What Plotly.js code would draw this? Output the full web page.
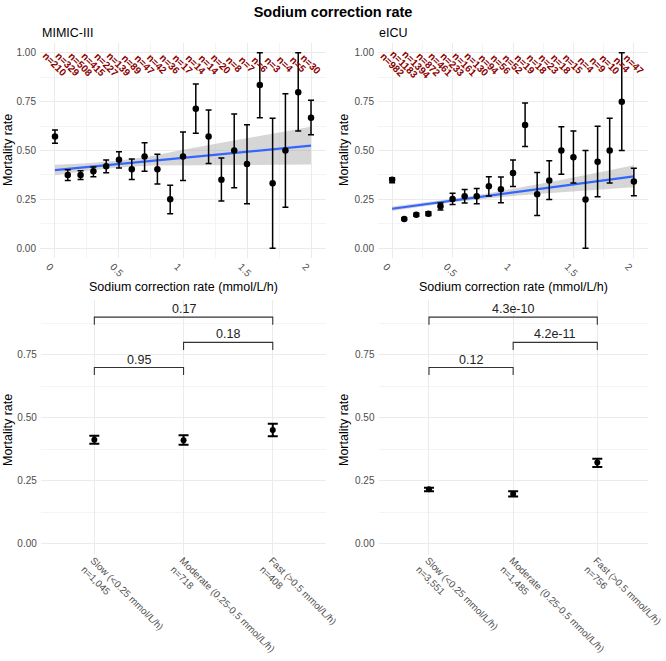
<!DOCTYPE html>
<html>
<head>
<meta charset="utf-8">
<script src="https://cdn.plot.ly/plotly-3.0.1.min.js"></script>
<style>
html, body { margin: 0; padding: 0; background: #fff; }
#chart { width: 666px; height: 661px; }
</style>
</head>
<body>
<div id="chart"></div>
<script>
// correction rate bins (mmol/L/h)
var rateBins = [0, 0.1, 0.2, 0.3, 0.4, 0.5, 0.6, 0.7, 0.8, 0.9, 1.0, 1.1, 1.2, 1.3, 1.4, 1.5, 1.6, 1.7, 1.8, 1.9, 2.0];

// MIMIC-III
var mimicRate = [0.571, 0.375, 0.375, 0.394, 0.419, 0.453, 0.404, 0.469, 0.404, 0.250, 0.469, 0.713, 0.571, 0.350, 0.500, 0.431, 0.835, 0.333, 0.500, 0.798, 0.667];
var mimicLo   = [0.537, 0.347, 0.352, 0.366, 0.386, 0.411, 0.352, 0.394, 0.329, 0.176, 0.347, 0.588, 0.434, 0.241, 0.309, 0.227, 0.667, 0.000, 0.210, 0.600, 0.580];
var mimicHi   = [0.605, 0.401, 0.396, 0.416, 0.452, 0.494, 0.457, 0.540, 0.481, 0.322, 0.595, 0.840, 0.707, 0.461, 0.687, 0.632, 1.000, 0.665, 0.790, 1.000, 0.757];
var mimicN    = [210, 329, 508, 415, 227, 139, 89, 47, 42, 36, 17, 14, 14, 20, 8, 7, 6, 3, 4, 5, 30];

// eICU
var eicuRate = [0.350, 0.150, 0.171, 0.176, 0.215, 0.252, 0.266, 0.266, 0.317, 0.302, 0.385, 0.631, 0.276, 0.346, 0.500, 0.465, 0.249, 0.443, 0.500, 0.750, 0.341];
var eicuLo   = [0.335, 0.145, 0.163, 0.167, 0.196, 0.224, 0.232, 0.228, 0.267, 0.233, 0.316, 0.520, 0.168, 0.249, 0.378, 0.334, 0.000, 0.264, 0.334, 0.500, 0.269];
var eicuHi   = [0.360, 0.156, 0.179, 0.186, 0.232, 0.281, 0.300, 0.305, 0.366, 0.364, 0.452, 0.743, 0.387, 0.448, 0.622, 0.600, 0.500, 0.624, 0.665, 1.000, 0.409];
var eicuN    = [982, 1183, 1394, 872, 461, 233, 161, 130, 94, 56, 52, 19, 18, 23, 18, 15, 4, 9, 10, 4, 47];

// linear fits with 95% band
var fitX       = [0, 0.25, 0.5, 0.75, 1, 1.25, 1.5, 1.75, 2];
var mimicFit   = [0.400, 0.416, 0.431, 0.447, 0.463, 0.478, 0.494, 0.509, 0.525];
var mimicFitLo = [0.373, 0.397, 0.413, 0.423, 0.422, 0.423, 0.426, 0.427, 0.428];
var mimicFitHi = [0.427, 0.435, 0.449, 0.471, 0.504, 0.533, 0.562, 0.591, 0.622];
var eicuFit    = [0.202, 0.223, 0.244, 0.264, 0.285, 0.306, 0.327, 0.347, 0.368];
var eicuFitLo  = [0.190, 0.214, 0.235, 0.252, 0.267, 0.280, 0.292, 0.302, 0.312];
var eicuFitHi  = [0.214, 0.232, 0.253, 0.276, 0.303, 0.332, 0.362, 0.392, 0.424];

// grouped rates
var groupNames = ['Slow (&lt;0.25 mmol/L/h)', 'Moderate (0.25-0.5 mmol/L/h)', 'Fast (&gt;0.5 mmol/L/h)'];
var mimicGroupN = ['1,045', '718', '408'];
var mimicGroupRate = [0.413, 0.411, 0.452];
var mimicGroupLo = [0.398, 0.394, 0.427];
var mimicGroupHi = [0.429, 0.431, 0.477];
var eicuGroupN = ['3,551', '1,485', '756'];
var eicuGroupRate = [0.217, 0.198, 0.323];
var eicuGroupLo = [0.209, 0.188, 0.305];
var eicuGroupHi = [0.223, 0.209, 0.338];

// pairwise comparisons
var bracketFrom = [0, 1, 0];
var bracketTo = [1, 2, 2];
var bracketY = [0.70, 0.80, 0.90];
var mimicP = ['0.95', '0.18', '0.17'];
var eicuP = ['0.12', '4.2e-11', '4.3e-10'];

var W = 666, H = 661;
function px(v) { return v / W; }
function py(v) { return 1 - v / H; }

var FONT = 'Liberation Sans, Arial, sans-serif';
var tickFont = { family: FONT, size: 10, color: '#4d4d4d' };

function binTraces(xa, ya, rate, lo, hi, fit, fitLo, fitHi) {
	var bandX = fitX.concat(fitX.slice().reverse());
	var bandY = fitHi.concat(fitLo.slice().reverse());
	return [
		{ x: bandX, y: bandY, xaxis: xa, yaxis: ya, type: 'scatter', mode: 'lines',
		  fill: 'toself', fillcolor: 'rgba(153,153,153,0.4)', line: { width: 0 }, hoverinfo: 'skip' },
		{ x: fitX, y: fit, xaxis: xa, yaxis: ya, type: 'scatter', mode: 'lines',
		  line: { color: '#3366FF', width: 2.2 } },
		{ x: rateBins, y: rate, xaxis: xa, yaxis: ya, type: 'scatter', mode: 'markers',
		  marker: { color: '#000', size: 6.5 },
		  error_y: { type: 'data', symmetric: false,
		    array: hi.map(function (h, i) { return h - rate[i]; }),
		    arrayminus: lo.map(function (l, i) { return rate[i] - l; }),
		    color: '#000', thickness: 1.5, width: 3 } }
	];
}

function groupTraces(xa, ya, rate, lo, hi) {
	var bx = [], by = [];
	for (var i = 0; i < bracketFrom.length; i++) {
		bx.push(bracketFrom[i], bracketFrom[i], bracketTo[i], bracketTo[i], null);
		by.push(bracketY[i] - 0.03, bracketY[i], bracketY[i], bracketY[i] - 0.03, null);
	}
	return [
		{ x: bx, y: by, xaxis: xa, yaxis: ya, type: 'scatter', mode: 'lines',
		  line: { color: '#333', width: 1.1 }, hoverinfo: 'skip' },
		{ x: [0, 1, 2], y: rate, xaxis: xa, yaxis: ya, type: 'scatter', mode: 'markers',
		  marker: { color: '#000', size: 6 },
		  error_y: { type: 'data', symmetric: false,
		    array: hi.map(function (h, i) { return h - rate[i]; }),
		    arrayminus: lo.map(function (l, i) { return rate[i] - l; }),
		    color: '#000', thickness: 2, width: 5 } }
	];
}

var data = []
	.concat(binTraces('x', 'y', mimicRate, mimicLo, mimicHi, mimicFit, mimicFitLo, mimicFitHi))
	.concat(binTraces('x2', 'y2', eicuRate, eicuLo, eicuHi, eicuFit, eicuFitLo, eicuFitHi))
	.concat(groupTraces('x3', 'y3', mimicGroupRate, mimicGroupLo, mimicGroupHi))
	.concat(groupTraces('x4', 'y4', eicuGroupRate, eicuGroupLo, eicuGroupHi));

function topX(dom, anchor) {
	return { domain: dom, anchor: anchor, range: [-0.117, 2.117], tick0: 0, dtick: 0.5,
		tickangle: 45, tickfont: tickFont, showgrid: true, gridcolor: '#ebebeb', gridwidth: 1,
		zeroline: false, showline: false, ticks: '', automargin: false, ticklabelshift: -6,
		minor: { dtick: 0.25, showgrid: true, gridcolor: '#f4f4f4', gridwidth: 1 } };
}
function topY(anchor) {
	return { domain: [py(258), py(43)], anchor: anchor, range: [-0.05, 1.05], tick0: 0, dtick: 0.25,
		tickformat: '.2f', tickfont: tickFont, showgrid: true, gridcolor: '#ebebeb',
		zeroline: false, showline: false, ticks: '', automargin: false, ticklabelstandoff: 3,
		minor: { dtick: 0.125, showgrid: true, gridcolor: '#f4f4f4', gridwidth: 1 } };
}
function botX(dom, anchor, nArr) {
	return { domain: dom, anchor: anchor, range: [-0.6, 2.6], tickmode: 'array', tickvals: [0, 1, 2],
		ticktext: groupNames.map(function (g, i) { return g + '<br>n=' + nArr[i]; }),
		tickangle: 45, tickfont: { family: FONT, size: 9.8, color: '#4d4d4d' },
		ticklabelstandoff: -3, ticklabelshift: -1,
		showgrid: true, gridcolor: '#ebebeb', zeroline: false, showline: false, ticks: '', automargin: false };
}
function botY(anchor) {
	return { domain: [py(555), py(300)], anchor: anchor, range: [-0.044, 0.968], tick0: 0, dtick: 0.25,
		tickformat: '.2f', tickfont: tickFont, showgrid: true, gridcolor: '#ebebeb',
		zeroline: false, showline: false, ticks: '', automargin: false, ticklabelstandoff: 3,
		minor: { dtick: 0.125, showgrid: true, gridcolor: '#f4f4f4', gridwidth: 1 } };
}

var annotations = [];
function nLabels(xr, yr, nArr) {
	nArr.forEach(function (n, i) {
		annotations.push({ x: rateBins[i], y: 0.94, xref: xr, yref: yr, text: '<b>n=' + n + '</b>',
			showarrow: false, textangle: 45, xanchor: 'center', yanchor: 'middle',
			font: { family: FONT, size: 10, color: '#8B0000' } });
	});
}
nLabels('x', 'y', mimicN);
nLabels('x2', 'y2', eicuN);

function pLabels(xr, yr, pArr) {
	pArr.forEach(function (p, i) {
		annotations.push({ x: (bracketFrom[i] + bracketTo[i]) / 2, y: bracketY[i], xref: xr, yref: yr,
			text: p, showarrow: false, xanchor: 'center', yanchor: 'bottom', yshift: -1,
			font: { family: FONT, size: 12.5, color: '#222' } });
	});
}
pLabels('x3', 'y3', mimicP);
pLabels('x4', 'y4', eicuP);

function paperText(text, x, y, opts) {
	var a = { x: px(x), y: py(y), xref: 'paper', yref: 'paper', text: text, showarrow: false,
		xanchor: 'center', yanchor: 'middle', font: { family: FONT, size: 12.5, color: '#000' } };
	for (var k in opts) a[k] = opts[k];
	annotations.push(a);
}
paperText('MIMIC-III', 40, 33, { xanchor: 'left' });
paperText('eICU', 377, 33, { xanchor: 'left' });
paperText('Mortality rate', 8, 150, { textangle: -90 });
paperText('Mortality rate', 344, 150, { textangle: -90 });
paperText('Mortality rate', 8, 430, { textangle: -90 });
paperText('Mortality rate', 344, 430, { textangle: -90 });
paperText('Sodium correction rate (mmol/L/h)', 183, 287, {});
paperText('Sodium correction rate (mmol/L/h)', 513, 287, {});

var layout = {
	width: W, height: H,
	margin: { l: 0, r: 0, t: 0, b: 0 },
	paper_bgcolor: '#fff', plot_bgcolor: '#fff',
	showlegend: false,
	font: { family: FONT },
	title: { text: '<b>Sodium correction rate</b>', x: 0.5, xanchor: 'center', y: py(12), yanchor: 'middle',
		yref: 'container', font: { family: FONT, size: 14.5, color: '#000' } },
	xaxis: topX([px(40), px(326)], 'y'),
	yaxis: topY('x'),
	xaxis2: topX([px(378), px(648)], 'y2'),
	yaxis2: topY('x2'),
	xaxis3: botX([px(40.8), px(326.3)], 'y3', mimicGroupN),
	yaxis3: botY('x3'),
	xaxis4: botX([px(378.5), px(647.8)], 'y4', eicuGroupN),
	yaxis4: botY('x4'),
	annotations: annotations
};

Plotly.newPlot('chart', data, layout, { displayModeBar: false, staticPlot: true });
</script>
</body>
</html>
